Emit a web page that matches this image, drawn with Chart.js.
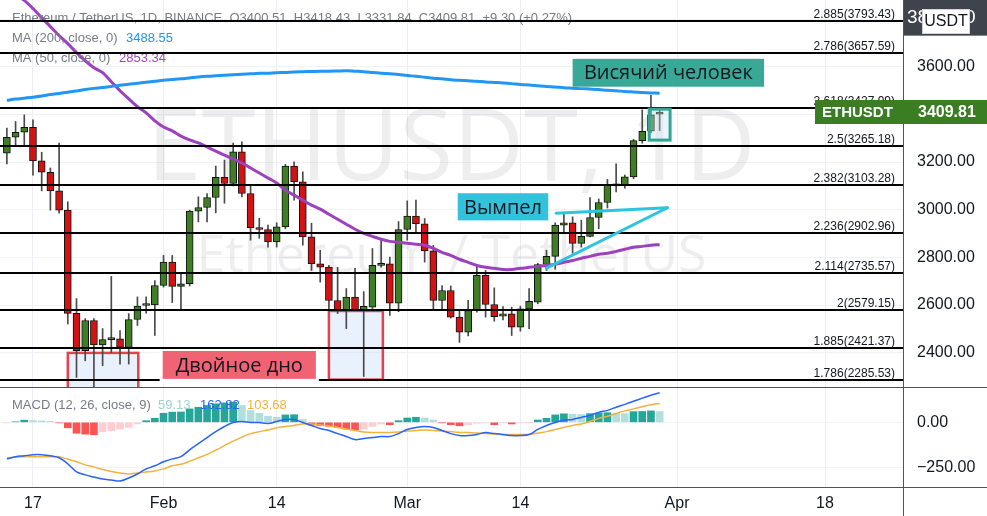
<!DOCTYPE html>
<html><head><meta charset="utf-8">
<script src="https://cdn.jsdelivr.net/npm/chart.js@4.4.1/dist/chart.umd.min.js"></script>
<style>html,body{margin:0;padding:0;background:#fff;overflow:hidden}#wrap{width:987px;height:516px;position:relative}</style>
</head><body><div id="wrap"><canvas id="c" width="987" height="516"></canvas></div>
<script>
// ---------- data ----------
const dates = ['2022-01-14','2022-01-15','2022-01-16','2022-01-17','2022-01-18','2022-01-19','2022-01-20','2022-01-21','2022-01-22','2022-01-23','2022-01-24','2022-01-25','2022-01-26','2022-01-27','2022-01-28','2022-01-29','2022-01-30','2022-01-31',
'2022-02-01','2022-02-02','2022-02-03','2022-02-04','2022-02-05','2022-02-06','2022-02-07','2022-02-08','2022-02-09','2022-02-10','2022-02-11','2022-02-12','2022-02-13','2022-02-14','2022-02-15','2022-02-16','2022-02-17','2022-02-18','2022-02-19','2022-02-20','2022-02-21','2022-02-22','2022-02-23','2022-02-24','2022-02-25','2022-02-26','2022-02-27','2022-02-28',
'2022-03-01','2022-03-02','2022-03-03','2022-03-04','2022-03-05','2022-03-06','2022-03-07','2022-03-08','2022-03-09','2022-03-10','2022-03-11','2022-03-12','2022-03-13','2022-03-14','2022-03-15','2022-03-16','2022-03-17','2022-03-18','2022-03-19','2022-03-20','2022-03-21','2022-03-22','2022-03-23','2022-03-24','2022-03-25','2022-03-26','2022-03-27','2022-03-28','2022-03-29','2022-03-30'];
const open = [3237,3304,3325,3346,3205,3157,3079,2998,2565,2408,2535,2432,2455,2458,2422,2539,2598,2600,2682,2780,2678,2689,2994,3009,3051,3136,3110,3243,3068,2923,2917,2865,2928,3183,3117,2886,2773,2759,2619,2577,2633,2577,2591,2766,2773,2608,2917,2973,2941,2827,2619,2661,2549,2486,2577,2724,2602,2553,2563,2507,2584,2612,2770,2804,2935,2945,2858,2888,2967,3030,3100,3103,3138,3290,3329,3400.51];
const high = [3342,3370,3398,3377,3241,3175,3280,3033,2627,2543,2543,2501,2720,2493,2564,2634,2634,2703,2808,2808,2732,2998,3054,3068,3183,3208,3280,3285,3103,2964,2935,2945,3190,3201,3159,2943,2830,2766,2758,2669,2754,2656,2837,2876,2801,2950,3037,3040,2963,2850,2682,2680,2577,2620,2759,2745,2672,2593,2591,2595,2669,2775,2830,2945,2987,2970,2956,3051,3045,3127,3192,3145,3295,3419,3480,3418.43];
const low = [3192,3272,3272,3145,3079,2998,2985,2520,2296,2366,2160,2345,2400,2352,2352,2514,2566,2472,2675,2610,2581,2680,2949,2949,2987,3027,3100,3054,2872,2880,2843,2843,2920,3040,2851,2745,2696,2575,2564,2501,2577,2300,2585,2759,2556,2572,2872,2907,2780,2577,2577,2545,2443,2470,2570,2549,2532,2537,2472,2490,2501,2605,2745,2750,2907,2817,2843,2886,2920,3007,3075,3090,3130,3279,3322,3331.84];
const close = [3304,3325,3346,3205,3157,3079,2998,2565,2408,2535,2432,2455,2458,2422,2539,2595,2600,2682,2780,2678,2689,2994,3009,3051,3136,3110,3243,3068,2923,2917,2865,2928,3183,3117,2886,2773,2759,2619,2577,2633,2577,2594,2766,2773,2608,2917,2973,2941,2827,2619,2661,2549,2486,2577,2724,2602,2551,2563,2507,2584,2615,2770,2804,2935,2945,2858,2888,2967,3030,3103,3103,3138,3290,3329,3398,3409.81];
const ma200 = [3459,3464,3468,3472,3477,3483,3488,3493,3498,3504,3509,3513,3517,3522,3526,3531,3535,3539,3543,3546,3549,3553,3557,3560,3562,3564,3566,3568,3570,3572,3573,3575,3576,3578,3579,3580,3581,3581,3582,3583,3581,3579,3576,3573,3570,3567,3563,3560,3556,3552,3549,3545,3543,3541,3539,3536,3534,3532,3529,3525,3523,3520,3517,3515,3512,3510,3508,3506,3504,3501,3499,3496,3494,3492,3490,3488.55];
const ma50 = [3932,3903,3878,3844,3806,3768,3731,3697,3659,3625,3596,3575,3537,3499,3465,3432,3406,3373,3347,3331,3309,3293,3280,3263,3246,3229,3213,3196,3175,3154,3133,3112,3082,3061,3040,3019,3002,2981,2960,2939,2918,2901,2888,2876,2867,2863,2859,2855,2851,2838,2821,2808,2792,2779,2766,2758,2754,2749,2749,2754,2758,2762,2766,2771,2779,2787,2796,2804,2813,2817,2825,2834,2842,2846,2851,2853.34];
const macd = [-201,-189,-184,-178,-178,-184,-195,-228,-273,-289,-301,-312,-317,-323,-306,-284,-256,-239,-217,-201,-189,-151,-117,-84,-51,-23,-1,5,-1,-1,-6,5,16,16,-1,-17,-34,-45,-62,-78,-95,-89,-84,-78,-78,-62,-39,-28,-23,-28,-45,-62,-73,-73,-67,-56,-62,-67,-73,-73,-67,-39,-17,-1,11,16,27,38,55,66,83,99,116,133,149,162.82];
const signal = [-195,-192,-189,-189,-189,-189,-189,-203,-217,-234,-245,-259,-270,-278,-284,-278,-273,-267,-256,-239,-231,-214,-195,-176,-153,-128,-103,-81,-62,-51,-42,-30,-23,-17,-9,-9,-14,-20,-28,-37,-45,-53,-56,-56,-56,-53,-48,-45,-42,-45,-48,-51,-56,-56,-59,-62,-64,-67,-67,-67,-67,-59,-51,-39,-28,-17,-9,5,22,33,49,63,74,86,97,103.68];
const hist = [-3,3,12,10,8,5,-3,-30,-60,-65,-68,-52,-46,-37,-28,-9,9,22,50,56,57,74,83,93,102,107,111,93,65,50,33,28,41,42,15,-15,-19,-22,-28,-37,-41,-37,-22,-9,-13,9,24,28,24,13,-2,-13,-19,-13,-5,-3,-13,-2,-9,-2,-1,13,22,41,47,45,43,48,52,53,51,48,59,60,63,59.13];
const xTickDays = [3,18,31,46,59,77,94];
const xTickLabels = ['17','Feb','14','Mar','14','Apr','18'];
const priceTicks = [2400,2600,2800,3000,3200,3400,3600,3800];
const macdTicks = [0,-250];
const fibRatios = [2.885,2.786,2.618,2.5,2.382,2.236,2.114,2,1.885,1.786];
const fibPrices = [3793.43,3657.59,3427.99,3265.18,3103.28,2902.96,2735.57,2579.15,2421.37,2285.53];
const headerText = 'Ethereum / TetherUS, 1D, BINANCE  O3400.51  H3418.43  L3331.84  C3409.81  +9.30 (+0.27%)';
// annotations in data space: [dayFrom, dayTo, priceTop, priceBottom]
const doubleBottomBoxes = [[7.0,15.1,2399,2200],[37.0,43.2,2575,2287]];
const hangingManBox = [73.8,76.2,3422,3292];
const pennantTop = [[63.1,2985],[75.9,3008]];
const pennantBottom = [[62.0,2755],[75.9,3008]];
const textLabels = [
  {text:'Висячий человек', box:[65.0,87.0,3633,3516], color:'#3aa896'},
  {text:'Вымпел', box:[51.8,62.2,3069,2955], color:'#33c1dc'},
  {text:'Двойное дно', box:[17.9,35.5,2407,2290], color:'#ef6373', knock:true}
];

// ---------- config ----------
const N = close.length;
const idx = [...Array(N).keys()];
const UP = '#3f7e24', DOWN = '#d11313';
const TAG_TICK = 3800;
const histColors = hist.map((h,i)=>{const p = i ? hist[i-1] : h; return h>=0 ? (h>=p?'#26a69a':'#b2dfdb') : (h<p?'#ff5252':'#ffcdd2');});
const FONT = '"Liberation Sans", Arial, sans-serif';
const LFONT = '"Open Sans", "Noto Sans", sans-serif';
const noPad = (s)=>{s.paddingTop=0;s.paddingBottom=0;s.paddingLeft=0;s.paddingRight=0;};

const overlay = {
  id:'overlay',
  beforeDatasetsDraw(chart){
    const {ctx} = chart; const xs = chart.scales.x, ys = chart.scales.y;
    ctx.save();
    ctx.beginPath(); ctx.rect(xs.left, ys.top, xs.right-xs.left, ys.bottom-ys.top); ctx.clip();
    const cx = (xs.left+xs.right)/2;
    ctx.fillStyle = 'rgba(120,123,134,0.13)';
    ctx.textAlign = 'center'; ctx.textBaseline = 'alphabetic';
    ctx.font = '98px ' + LFONT;
    ctx.fillText('ETHUSDT, 1D', cx, ys.top + 180);
    ctx.font = '52px ' + LFONT;
    ctx.fillText('Ethereum / TetherUS', cx, ys.top + 272);
    doubleBottomBoxes.forEach(b=>{
      const x1 = xs.getPixelForValue(b[0]), x2 = xs.getPixelForValue(b[1]);
      const y1 = ys.getPixelForValue(b[2]), y2 = ys.getPixelForValue(b[3]);
      ctx.fillStyle = 'rgba(214,229,250,0.55)';
      ctx.fillRect(x1,y1,x2-x1,y2-y1);
      ctx.strokeStyle = '#e5424f'; ctx.lineWidth = 2.5;
      ctx.strokeRect(x1,y1,x2-x1,y2-y1);
    });
    ctx.restore();
  },
  afterDatasetsDraw(chart){
    const {ctx} = chart; const xs = chart.scales.x, ys = chart.scales.y;
    ctx.save();
    ctx.beginPath(); ctx.rect(xs.left, ys.top, xs.right-xs.left, ys.bottom-ys.top); ctx.clip();
    ctx.textAlign='left'; ctx.textBaseline='middle';
    ctx.font = '13px ' + FONT; ctx.fillStyle = '#787b86';
    ctx.fillText(headerText, 12, ys.top + 18);
    ctx.fillText('MA (200, close, 0)', 12, ys.top + 38);
    ctx.fillStyle = '#2196f3'; ctx.fillText(ma200[N-1].toFixed(2), 126, ys.top + 38);
    ctx.fillStyle = '#787b86'; ctx.fillText('MA (50, close, 0)', 12, ys.top + 58);
    ctx.fillStyle = '#a04cbf'; ctx.fillText(ma50[N-1].toFixed(2), 119, ys.top + 58);
    fibPrices.forEach((p,k)=>{
      const y = Math.round(ys.getPixelForValue(p));
      ctx.fillStyle = '#000';
      ctx.fillRect(xs.left, y-1, xs.right-xs.left, 2);
      ctx.font = '12px ' + FONT; ctx.textAlign='right'; ctx.textBaseline='alphabetic';
      ctx.fillStyle = '#131722';
      ctx.fillText(fibRatios[k] + '(' + p.toFixed(2) + ')', xs.right - 8, y - 3);
    });
    ctx.strokeStyle = '#2ec3de'; ctx.lineWidth = 3; ctx.lineCap='round';
    [pennantTop, pennantBottom].forEach(seg=>{
      ctx.beginPath();
      ctx.moveTo(xs.getPixelForValue(seg[0][0]), ys.getPixelForValue(seg[0][1]));
      ctx.lineTo(xs.getPixelForValue(seg[1][0]), ys.getPixelForValue(seg[1][1]));
      ctx.stroke();
    });
    {
      const b = hangingManBox;
      const x1 = xs.getPixelForValue(b[0]), x2 = xs.getPixelForValue(b[1]);
      const y1 = ys.getPixelForValue(b[2]), y2 = ys.getPixelForValue(b[3]);
      ctx.fillStyle = 'rgba(200,225,240,0.35)'; ctx.fillRect(x1,y1,x2-x1,y2-y1);
      ctx.strokeStyle = '#2fa693'; ctx.lineWidth = 3; ctx.strokeRect(x1,y1,x2-x1,y2-y1);
    }
    textLabels.forEach(l=>{
      const x1 = xs.getPixelForValue(l.box[0]), x2 = xs.getPixelForValue(l.box[1]);
      const y1 = ys.getPixelForValue(l.box[2]), y2 = ys.getPixelForValue(l.box[3]);
      if (l.knock){ ctx.fillStyle='#fff'; ctx.fillRect(x1-3,y1-1,x2-x1+6,y2-y1+5); }
      ctx.fillStyle = l.color; ctx.fillRect(x1,y1,x2-x1,y2-y1);
      ctx.fillStyle = '#131722'; ctx.font = '20px ' + LFONT; ctx.textAlign='center'; ctx.textBaseline='middle';
      ctx.fillText(l.text, (x1+x2)/2, (y1+y2)/2 + 1);
    });
    ctx.restore();
  },
  afterDraw(chart){
    const ctx = chart.ctx; const xs = chart.scales.x, ys = chart.scales.y, y2s = chart.scales.y2;
    const W = chart.width, H = chart.height;
    const R = Math.round(xs.right);
    ctx.save();
    ctx.globalAlpha = 1; ctx.globalCompositeOperation = 'source-over';
    ctx.fillStyle = '#50535e';
    ctx.fillRect(0, Math.round(ys.bottom), W, 1);
    ctx.fillRect(0, Math.round(y2s.bottom), W, 1);
    ctx.fillRect(R, 0, 1, H);
    ctx.font = '13px ' + FONT; ctx.textAlign='left'; ctx.textBaseline='middle';
    const ly = y2s.top + 18;
    ctx.fillStyle = '#787b86'; ctx.fillText('MACD (12, 26, close, 9)', 12, ly);
    ctx.fillStyle = '#9fd3cd'; ctx.fillText(hist[N-1].toFixed(2), 158, ly);
    ctx.fillStyle = '#2962ff'; ctx.fillText(macd[N-1].toFixed(2), 200, ly);
    ctx.fillStyle = '#f2b33d'; ctx.fillText(signal[N-1].toFixed(2), 247, ly);
    // last price label
    const py = ys.getPixelForValue(close[N-1]);
    ctx.fillStyle = '#3b7d22';
    ctx.fillRect(815, py-12, W-815, 24);
    ctx.fillStyle = '#ffffff'; ctx.font = 'bold 15px ' + FONT;
    ctx.fillText('ETHUSDT', 822, py+1);
    ctx.font = 'bold 16px ' + FONT; ctx.fillText(close[N-1].toFixed(2), R + 15, py+1);
    // top-right badge: dark price tag under a white currency box
    ctx.fillStyle = 'rgb(63,67,76)';
    ctx.beginPath(); ctx.rect(R + 1, 0, W - R - 1, 32); ctx.fill();
    ctx.fillStyle = '#ffffff'; ctx.font = '19px ' + FONT; ctx.textAlign='left';
    ctx.fillText('3800.00', R + 4, 18);
    ctx.fillStyle = '#ffffff'; ctx.strokeStyle = '#d1d4dc'; ctx.lineWidth = 1;
    ctx.fillRect(R + 19.5, 9.5, 47, 24);
    ctx.strokeRect(R + 19.5, 9.5, 47, 24);
    ctx.fillStyle = '#131722'; ctx.font = '16px ' + FONT; ctx.textAlign='center';
    ctx.fillText('USDT', R + 43, 22);
    ctx.restore();
  }
};

const chart = new Chart(document.getElementById('c'), {
  type:'bar',
  data:{
    datasets:[
      {type:'line', label:'MA200', data: idx.map(i=>({x:i,y:ma200[i]})), yAxisID:'y', borderColor:'#2196f3', borderWidth:3, pointRadius:0, tension:0.3, order:1},
      {type:'line', label:'MA50', data: idx.map(i=>({x:i,y:ma50[i]})), yAxisID:'y', borderColor:'#9c42bd', borderWidth:3, pointRadius:0, tension:0.3, order:1},
      {type:'bar', label:'body', data: idx.map(i=>({x:i,y:[open[i],close[i]]})), yAxisID:'y', backgroundColor: idx.map(i=>close[i]>=open[i]?UP:DOWN), borderColor:'#111', borderWidth:1, borderSkipped:false, barThickness:7, minBarLength:2, grouped:false, clip:0, order:2},
      {type:'bar', label:'wick', data: idx.map(i=>({x:i,y:[low[i],high[i]]})), yAxisID:'y', backgroundColor:'#4a4a4a', barThickness:1, grouped:false, clip:0, order:3},
      {type:'line', label:'MACD', data: idx.map(i=>({x:i,y:macd[i]})), yAxisID:'y2', borderColor:'#2962ff', borderWidth:1.5, pointRadius:0, tension:0.3, order:0},
      {type:'line', label:'Signal', data: idx.map(i=>({x:i,y:signal[i]})), yAxisID:'y2', borderColor:'#f2b33d', borderWidth:1.5, pointRadius:0, tension:0.3, order:0},
      {type:'bar', label:'Histogram', data: idx.map(i=>({x:i,y:hist[i]})), yAxisID:'y2', backgroundColor: histColors, barThickness:7, grouped:false, clip:0, order:4}
    ]
  },
  options:{
    responsive:false, animation:false, devicePixelRatio:1,
    layout:{padding:0},
    plugins:{legend:{display:false}, tooltip:{enabled:false}},
    scales:{
      x:{type:'linear', min:-0.79, max:102.96, offset:false, position:'bottom',
        grid:{color:'#eceef3', offset:false, drawTicks:false}, border:{display:false},
        ticks:{autoSkip:false, maxRotation:0, padding:7, color:'#131722', font:{size:16, family:FONT},
          callback:(v)=>{const k = xTickDays.indexOf(v); return k>=0 ? xTickLabels[k] : '';}},
        afterBuildTicks:(s)=>{s.ticks = xTickDays.map(v=>({value:v}));},
        afterFit:(s)=>{s.height = 29; noPad(s);}
      },
      y:{type:'linear', position:'right', stack:'pane', stackWeight:387, min:2255.9, max:3879.9,
        grid:{color:'#f0f2f6', drawTicks:false}, border:{display:false},
        ticks:{padding:14, font:{size:16, family:FONT}, callback:(v)=>v.toFixed(2),
          color:(c)=> (c.tick && c.tick.value===TAG_TICK) ? '#ffffff' : '#131722',
          showLabelBackdrop:(c)=> !!(c.tick && c.tick.value===TAG_TICK),
          backdropColor:'rgb(63,67,76)', backdropPadding:{top:7,bottom:7,left:14,right:14}},
        afterBuildTicks:(s)=>{s.ticks = priceTicks.map(v=>({value:v}));},
        afterFit:(s)=>{s.width = 84; noPad(s);}
      },
      y2:{type:'linear', position:'right', stack:'pane', stackWeight:100, min:-355.6, max:194.4,
        grid:{color:'#f0f2f6', drawTicks:false}, border:{display:false},
        ticks:{padding:14, color:'#131722', font:{size:16, family:FONT}, callback:(v)=>v.toFixed(2).replace('-','\u2212')},
        afterBuildTicks:(s)=>{s.ticks = macdTicks.map(v=>({value:v}));},
        afterFit:(s)=>{s.width = 84; noPad(s);}
      }
    }
  },
  plugins:[overlay]
});
</script></body></html>
